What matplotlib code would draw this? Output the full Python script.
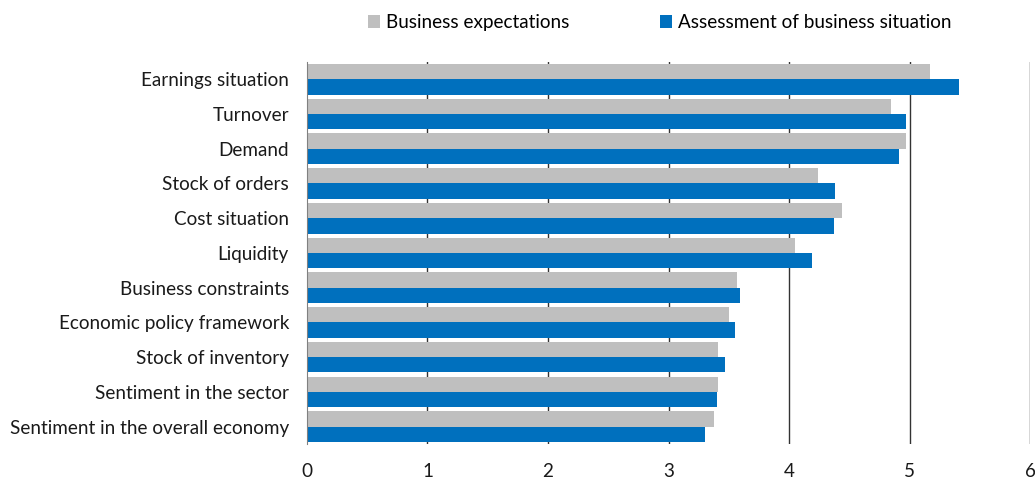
import numpy as np
import matplotlib.pyplot as plt

plt.rcParams['font.family'] = ['Lato', 'DejaVu Sans']

categories = ["Earnings situation", "Turnover", "Demand", "Stock of orders",
              "Cost situation", "Liquidity", "Business constraints",
              "Economic policy framework", "Stock of inventory",
              "Sentiment in the sector", "Sentiment in the overall economy"]
expectations = [5.17, 4.85, 4.97, 4.24, 4.44, 4.05, 3.57, 3.50, 3.41, 3.41, 3.38]
assessment = [5.41, 4.97, 4.91, 4.38, 4.37, 4.19, 3.59, 3.55, 3.47, 3.40, 3.30]

GRAY = "#BFBFBF"
BLUE = "#0070BE"
FS = 13.6


def main():
    fig = plt.figure(figsize=(10.35, 4.8), dpi=100)
    ax = fig.add_axes([0.2966, 0.075, 0.6986, 0.796])

    y = np.arange(len(categories))
    h = 0.44
    ax.barh(y - h / 2, expectations, height=h, color=GRAY,
            label="Business expectations", zorder=2)
    ax.barh(y + h / 2, assessment, height=h, color=BLUE,
            label="Assessment of business situation", zorder=2)

    ax.set_xlim(0, 6)
    ax.set_ylim(len(categories) - 0.5, -0.5)
    ax.set_xticks(range(7))
    ax.set_yticks(y)
    ax.set_yticklabels(categories)
    ax.tick_params(axis='both', length=0, labelsize=FS, colors="#1a1a1a")
    ax.tick_params(axis='x', pad=13.5)
    ax.tick_params(axis='y', pad=13)

    for s in ["top", "right", "bottom"]:
        ax.spines[s].set_visible(False)
    ax.spines["left"].set_color("#808080")
    ax.spines["left"].set_linewidth(0.8)

    for v in range(1, 7):
        ax.axvline(v, color="#333333", linewidth=1.0, zorder=1)

    ax.legend(loc="lower center", bbox_to_anchor=(0.488, 1.08), ncol=2,
              frameon=False, fontsize=FS, handlelength=0.65,
              handleheight=0.65, handletextpad=0.3, columnspacing=4.8,
              borderaxespad=0, borderpad=0)

    fig.savefig("out.png", dpi=100)


if __name__ == "__main__":
    main()
